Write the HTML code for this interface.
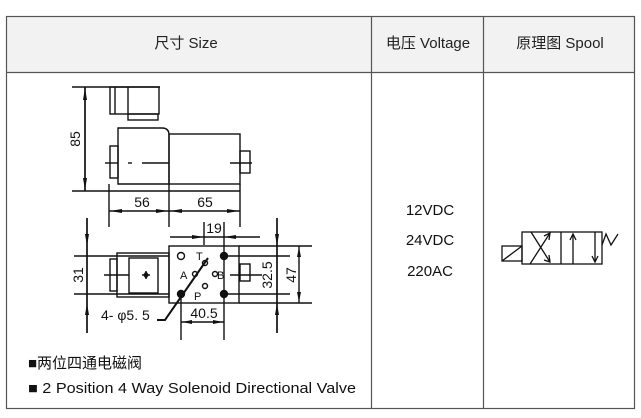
<!DOCTYPE html>
<html><head><meta charset="utf-8"><style>
html,body{margin:0;padding:0;background:#fff;width:641px;height:418px;overflow:hidden}
svg{display:block}
text{font-family:"Liberation Sans","Noto Sans CJK SC",sans-serif}
</style></head><body>
<svg width="641" height="418" viewBox="0 0 641 418" xmlns="http://www.w3.org/2000/svg">
<rect x="6.5" y="16.5" width="628" height="56" fill="#f2f2f2"/>
<g stroke="#555" stroke-width="1.2" fill="none">
<rect x="6.5" y="16.5" width="628" height="392"/>
<line x1="6.5" y1="72.5" x2="634.5" y2="72.5"/>
<line x1="371.5" y1="16.5" x2="371.5" y2="408.5"/>
<line x1="483.5" y1="16.5" x2="483.5" y2="408.5"/>
</g>
<g font-size="15" fill="#222" text-anchor="middle">
<text x="186" y="48">尺寸 Size</text>
<text x="428" y="48">电压 Voltage</text>
<text x="560" y="48">原理图 Spool</text>
</g>
<g font-size="15" fill="#111" text-anchor="middle">
<text x="430" y="215">12VDC</text>
<text x="430" y="245">24VDC</text>
<text x="430" y="276">220AC</text>
</g>
<g font-size="15" fill="#111">
<text x="28" y="368">■两位四通电磁阀</text>
<text x="28" y="393" textLength="328" lengthAdjust="spacingAndGlyphs">■ 2 Position 4 Way Solenoid Directional Valve</text>
</g>
<!-- spool -->
<g stroke="#111" stroke-width="1.3" fill="none">
<rect x="522" y="232" width="80" height="32"/>
<line x1="561" y1="232" x2="561" y2="264"/>
<rect x="502" y="246" width="20" height="15"/>
<line x1="502" y1="261" x2="522" y2="246"/>
<line x1="530" y1="264" x2="550" y2="233"/>
<line x1="531" y1="232" x2="550" y2="262"/>
<line x1="573" y1="264" x2="573" y2="234"/>
<line x1="595" y1="232" x2="595" y2="262"/>
<polyline points="602,245 606,234 611,245 618,234"/>
<polyline points="544,236 550,233 549,240"/>
<polyline points="544,260 550,262 549,255"/>
<polyline points="570,240 573,234 576,240"/>
<polyline points="592,256 595,262 598,256"/>
</g>
<!-- drawing -->
<g stroke="#111" stroke-width="1.4" fill="none">
<line x1="72" y1="87" x2="160" y2="87"/>
<line x1="72" y1="191" x2="240" y2="191"/>
<line x1="85" y1="87" x2="85" y2="191" stroke-width="1.7"/>
<rect x="110" y="87" width="49" height="27"/>
<line x1="115" y1="87" x2="115" y2="114"/>
<line x1="128" y1="87" x2="128" y2="114"/>
<rect x="128" y="114" width="30" height="6"/>
<path d="M118,128 H162 Q169,128 169,135 V184 H118 Z"/>
<rect x="110" y="146" width="8" height="32"/>
<rect x="169" y="134" width="71" height="50"/>
<rect x="240" y="151" width="10" height="22"/>
<line x1="105" y1="163" x2="118" y2="163"/>
<line x1="128" y1="163" x2="132" y2="163"/>
<line x1="142" y1="163" x2="169" y2="163"/>
<line x1="230" y1="163" x2="252" y2="163"/>
<line x1="109" y1="184" x2="109" y2="227"/>
<line x1="169" y1="184" x2="169" y2="227"/>
<line x1="240" y1="184" x2="240" y2="227"/>
<line x1="109" y1="211" x2="240" y2="211"/>
<line x1="87" y1="218" x2="87" y2="333" stroke-width="1.7"/>
<line x1="74" y1="256" x2="169" y2="256"/>
<line x1="74" y1="294" x2="169" y2="294"/>
<rect x="117" y="253" width="52" height="44"/>
<rect x="129" y="258" width="29" height="35"/>
<rect x="110" y="259" width="7" height="32"/>
<line x1="104" y1="275" x2="129" y2="275"/>
<rect x="169" y="246" width="70" height="57"/>
<line x1="239" y1="246" x2="312" y2="246"/>
<line x1="239" y1="303" x2="312" y2="303"/>
<line x1="224" y1="256" x2="290" y2="256"/>
<line x1="224" y1="294" x2="290" y2="294"/>
<rect x="240" y="264" width="10" height="17"/>
<line x1="230" y1="275" x2="262" y2="275"/>
<line x1="277" y1="218" x2="277" y2="333" stroke-width="1.7"/>
<line x1="299" y1="246" x2="299" y2="303"/>
<line x1="204" y1="222" x2="204" y2="245"/>
<line x1="224" y1="222" x2="224" y2="340"/>
<line x1="181" y1="296" x2="181" y2="340"/>
<line x1="170" y1="237" x2="260" y2="237"/>
<line x1="181" y1="322" x2="224" y2="322"/>
<circle cx="181" cy="256" r="3.5"/>
<circle cx="224" cy="256" r="3.5" fill="#111"/>
<circle cx="181" cy="294" r="3.5" fill="#111"/>
<circle cx="224" cy="294" r="3.5" fill="#111"/>
<circle cx="205" cy="263" r="2.5"/>
<circle cx="195" cy="274" r="2.5"/>
<circle cx="215" cy="274" r="2.5"/>
<circle cx="205" cy="286" r="2.5"/>
<line x1="142" y1="275" x2="150" y2="275"/><line x1="146" y1="271" x2="146" y2="279"/>
<polyline points="157,320 165,320 208,258" stroke-width="2"/>
</g>
<g fill="#111">
<path d="M146,271 L149,275 146,279 143,275Z"/>
<path d="M85,88 l-2,12 h4z M85,190 l-2,-12 h4z"/>
<path d="M110,211 l12,-2 v4z M168,211 l-12,-2 v4z M170,211 l12,-2 v4z M239,211 l-12,-2 v4z"/>
<path d="M87,246 l-2,-12 h4z M87,303 l-2,12 h4z M277,246 l-2,-12 h4z M277,303 l-2,12 h4z"/>
<path d="M299,247 l-2,10 h4z M299,302 l-2,-10 h4z"/>
<path d="M204,237 l-12,-2 v4z M224,237 l12,-2 v4z M182,322 l10,-2 v4z M223,322 l-10,-2 v4z"/>
</g>
<g font-size="14" fill="#111">
<text x="142" y="207" text-anchor="middle">56</text>
<text x="205" y="207" text-anchor="middle">65</text>
<text x="214" y="233" text-anchor="middle">19</text>
<text x="204" y="318" text-anchor="middle">40.5</text>
<text x="101" y="320">4- φ5. 5</text>
<text transform="translate(80,139) rotate(-90)" text-anchor="middle">85</text>
<text transform="translate(83,275) rotate(-90)" text-anchor="middle">31</text>
<text transform="translate(272,275) rotate(-90)" text-anchor="middle">32.5</text>
<text transform="translate(296,275) rotate(-90)" text-anchor="middle">47</text>
<text x="196" y="260" font-size="11">T</text>
<text x="180" y="279" font-size="11">A</text>
<text x="217" y="279" font-size="11">B</text>
<text x="194" y="300" font-size="11">P</text>
</g>
</svg>
</body></html>
